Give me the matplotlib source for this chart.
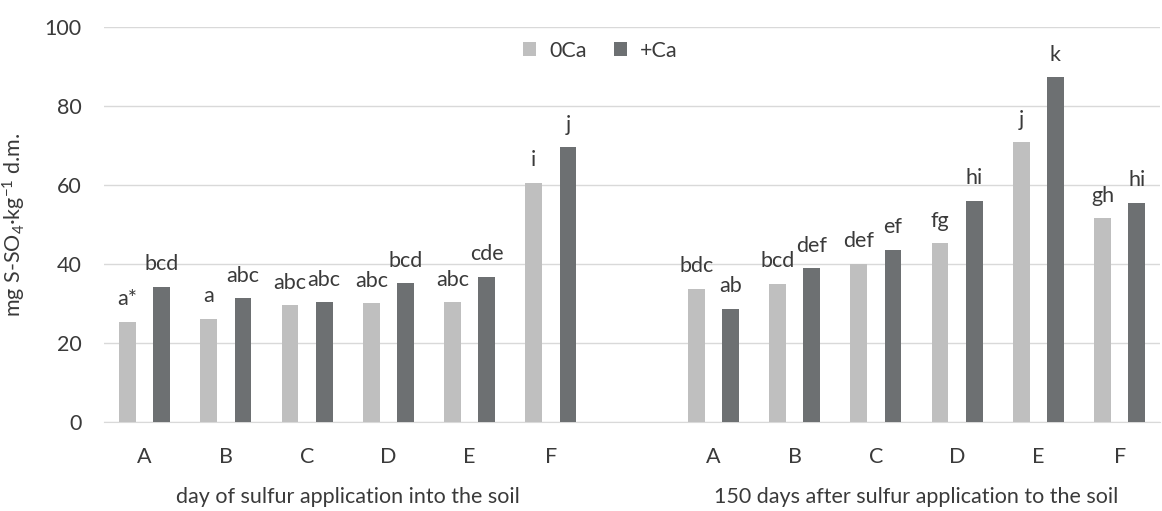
import numpy as np
import matplotlib
matplotlib.use("Agg")
import matplotlib.pyplot as plt
from matplotlib.transforms import blended_transform_factory

plt.rcParams['font.family'] = ['Lato', 'DejaVu Sans']
plt.rcParams['mathtext.fontset'] = 'custom'
plt.rcParams['mathtext.rm'] = 'Lato'
plt.rcParams['mathtext.it'] = 'Lato:italic'
plt.rcParams['mathtext.default'] = 'regular'

# data
categories = ['A', 'B', 'C', 'D', 'E', 'F']
group_titles = ['day of sulfur application into the soil',
                '150 days after sulfur application to the soil']

ca0_day0 = [25.4, 26.2, 29.6, 30.1, 30.4, 60.6]
caplus_day0 = [34.3, 31.3, 30.4, 35.1, 36.8, 69.6]
ca0_day150 = [33.8, 35.0, 40.1, 45.3, 70.8, 51.6]
caplus_day150 = [28.7, 38.9, 43.6, 56.0, 87.3, 55.5]

ca0_letters_day0 = ['a*', 'a', 'abc', 'abc', 'abc', 'i']
caplus_letters_day0 = ['bcd', 'abc', 'abc', 'bcd', 'cde', 'j']
ca0_letters_day150 = ['bdc', 'bcd', 'def', 'fg', 'j', 'gh']
caplus_letters_day150 = ['ab', 'def', 'ef', 'hi', 'k', 'hi']

light = '#bfbfbf'
dark = '#6d7072'
txt = '#3a3a3a'
fs = 15.5

fig = plt.figure(figsize=(11.62, 5.11), dpi=100)
ax = fig.add_axes([0.0895, 0.174, 0.909, 0.773])

# positions: group 1 at 0..5, blank at 6, group 2 at 7..12
x1 = np.arange(6)
x2 = np.arange(7, 13)
xs = np.concatenate([x1, x2])
ca0 = ca0_day0 + ca0_day150
caplus = caplus_day0 + caplus_day150
l0 = ca0_letters_day0 + ca0_letters_day150
lp = caplus_letters_day0 + caplus_letters_day150

w = 0.205
off = 0.21
b0 = ax.bar(xs - off, ca0, width=w, color=light, label='0Ca', zorder=3)
bp = ax.bar(xs + off, caplus, width=w, color=dark, label='+Ca', zorder=3)

for bars, labels in [(b0, l0), (bp, lp)]:
    for rect, lab in zip(bars, labels):
        ax.annotate(lab, (rect.get_x() + rect.get_width() / 2, rect.get_height()),
                    xytext=(0, 9), textcoords='offset points',
                    ha='center', va='bottom', fontsize=fs, color=txt)

ax.set_xlim(-0.5, 12.5)
ax.set_ylim(0, 100)
ax.set_yticks(range(0, 101, 20))
ax.yaxis.grid(True, color='#d9d9d9', linewidth=1, zorder=0)
ax.set_xticks(xs)
ax.set_xticklabels(categories * 2)
ax.tick_params(axis='both', length=0, labelsize=fs, colors=txt)
ax.tick_params(axis='x', pad=18)
ax.tick_params(axis='y', pad=16)
for s in ['top', 'right', 'left']:
    ax.spines[s].set_visible(False)
ax.spines['bottom'].set_color('#d9d9d9')

ax.set_ylabel('mg S-SO$_4$·kg$^{-1}$ d.m.', fontsize=fs, color=txt, labelpad=12)

trans = blended_transform_factory(ax.transData, ax.transAxes)
ax.text(x1.mean(), -0.19, group_titles[0], transform=trans, ha='center', va='center',
        fontsize=fs, color=txt)
ax.text(x2.mean(), -0.19, group_titles[1], transform=trans, ha='center', va='center',
        fontsize=fs, color=txt)

ax.legend(loc='center', bbox_to_anchor=(0.47, 0.94), ncol=2, frameon=False,
          fontsize=fs, handlelength=0.6, handleheight=0.6, columnspacing=1.3,
          handletextpad=0.6, labelcolor=txt)

fig.savefig('out.png', dpi=100)
